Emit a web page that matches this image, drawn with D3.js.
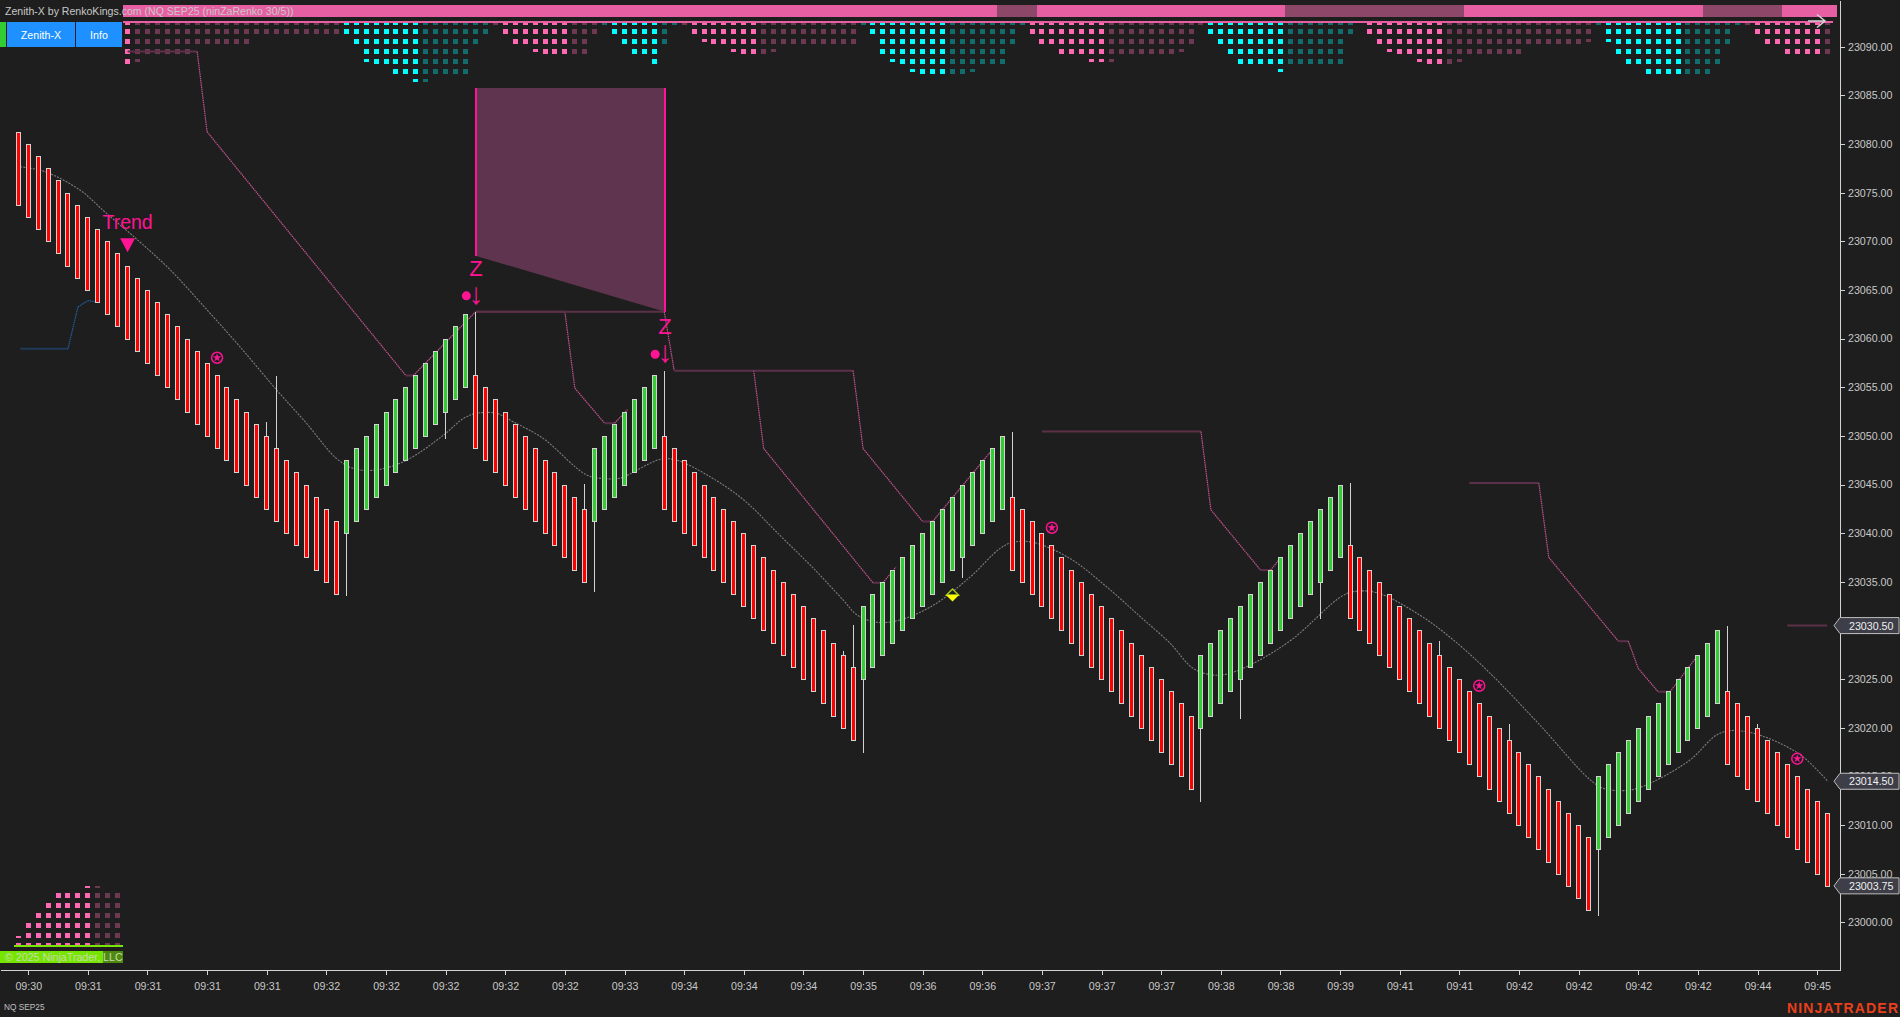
<!DOCTYPE html>
<html>
<head>
<meta charset="utf-8">
<script src="https://cdn.jsdelivr.net/npm/d3@7"></script>
<style>
html, body { margin: 0; padding: 0; background: #1e1e1e; overflow: hidden; }
text { font-family: "Liberation Sans", Arial, sans-serif; }
</style>
</head>
<body>
<script>
// bar closes (bottom of a red brick, top of a green brick)
var barClose = [
  23073.75,23072.5,23071.25,23070,23068.75,23067.5,23066.25,23065,23063.75,23062.5,23061.25,23060,23058.75,23057.5,23056.25,23055,23053.75,
  23052.5,23051.25,23050,23048.75,23047.5,23046.25,23045,23043.75,23042.5,23041.25,23040,23038.75,23037.5,23036.25,23035,23033.75,
  23047.5,23048.75,23050,23051.25,23052.5,23053.75,23055,23056.25,23057.5,23058.75,23060,23061.25,23062.5,
  23048.75,23047.5,23046.25,23045,23043.75,23042.5,23041.25,23040,23038.75,23037.5,23036.25,23035,
  23048.75,23050,23051.25,23052.5,23053.75,23055,23056.25,
  23042.5,23041.25,23040,23038.75,23037.5,23036.25,23035,23033.75,23032.5,23031.25,23030,23028.75,23027.5,23026.25,23025,23023.75,23022.5,23021.25,23020,23018.75,
  23032.5,23033.75,23035,23036.25,23037.5,23038.75,23040,23041.25,23042.5,23043.75,23045,23046.25,23047.5,23048.75,23050,
  23036.25,23035,23033.75,23032.5,23031.25,23030,23028.75,23027.5,23026.25,23025,23023.75,23022.5,23021.25,23020,23018.75,23017.5,23016.25,23015,23013.75,
  23027.5,23028.75,23030,23031.25,23032.5,23033.75,23035,23036.25,23037.5,23038.75,23040,23041.25,23042.5,23043.75,23045,
  23031.25,23030,23028.75,23027.5,23026.25,23025,23023.75,23022.5,23021.25,23020,23018.75,23017.5,23016.25,23015,23013.75,23012.5,23011.25,23010,23008.75,23007.5,23006.25,23005,23003.75,23002.5,23001.25,
  23015,23016.25,23017.5,23018.75,23020,23021.25,23022.5,23023.75,23025,23026.25,23027.5,23028.75,23030,
  23016.25,23015,23013.75,23012.5,23011.25,23010,23008.75,23007.5,23006.25,23005,23003.75
];
var upRuns = [[33, 45], [58, 64], [85, 99], [119, 133], [159, 171]];
var brickSize = 7.5;

// wicks: bar index and the price the wick reaches
var wickBars = [25, 26, 33, 43, 46, 57, 58, 65, 83, 84, 85, 95, 100, 119, 123, 131, 134, 143, 150, 159, 172, 175];
var wickEnds = [23051.4, 23056.15, 23033.5, 23049.7, 23062.75, 23045.1, 23034, 23056.7, 23027.9, 23030.6, 23017.4, 23035.4, 23050.4, 23012.4, 23020.9, 23031.2, 23045.15, 23028.9, 23020.35, 23000.7, 23030.45, 23020.35];

var maBars = [0.2, 2.7, 6.2, 8.8, 12.2, 15.3, 19, 22.3, 26, 29, 32, 33.7, 36, 39.1, 42.8, 44.8, 46.1, 48.1, 49.8, 52.8, 57.2, 59.2, 60.5, 64.6, 66.2, 69.6, 73, 76.6, 80, 83, 84.4, 86.4, 88.7, 92.1, 95.8, 98.8, 100.1, 102.1, 105.8, 109.5, 112.9, 115.9, 118.2, 120.2, 121.9, 124.9, 128.3, 133, 134.3, 136.7, 141, 144.4, 148.1, 153.1, 158, 159.5, 162.2, 164.5, 168.2, 171.2, 173.9, 179.1, 182.1];
var maValues = [23077.66, 23077.15, 23075.27, 23072.94, 23069.96, 23067.05, 23062.94, 23059.16, 23054.71, 23051.29, 23047.69, 23046.66, 23046.49, 23047.52, 23050.09, 23051.8, 23052.32, 23052.32, 23051.45, 23049.75, 23045.98, 23045.6, 23045.64, 23047.59, 23047.52, 23045.8, 23043.41, 23039.81, 23036.39, 23033.13, 23031.59, 23030.84, 23031.07, 23032.61, 23035.52, 23038.44, 23039.06, 23039.06, 23037.41, 23034.49, 23031.41, 23028.68, 23026.11, 23025.42, 23025.59, 23026.96, 23029.19, 23033.41, 23033.98, 23033.88, 23031.59, 23029.02, 23025.59, 23020.28, 23014.8, 23013.77, 23013.6, 23014.45, 23016.68, 23019.43, 23019.59, 23017.37, 23014.45];

// pink stop lines, [bar, price] knots
var stopLines = [
  [[11, 23089.5], [18, 23089.5], [19, 23081.25], [39, 23056.2], [39.75, 23056.2], [46, 23062.75], [55, 23062.75], [56, 23054.9], [59, 23051.3], [60, 23051.3], [61.3, 23052.7]],
  [[46, 23062.75], [65, 23062.75], [66, 23056.7], [74, 23056.7], [75, 23048.7], [86, 23034.9], [87, 23034.9], [88.3, 23036.5]],
  [[74, 23056.7], [84, 23056.7], [85, 23048.7], [91, 23041.2], [92, 23041.2], [98.1, 23048.7]],
  [[103, 23050.45], [119, 23050.45], [120, 23042.4], [125, 23036.2], [126, 23036.2], [127, 23037.45]],
  [[146, 23045.15], [153, 23045.15], [154, 23037.5], [161, 23028.9], [162, 23028.9], [163, 23026.1], [165, 23023.7], [166.2, 23023.7], [168.7, 23027.05]],
  [[178, 23030.5], [182, 23030.5]]
];
var blueLine = [[0.2, 23058.95], [5, 23058.95], [6, 23063.25], [7, 23063.9], [8, 23063.75]];

// supply zone corners
var zoneBars = [46.06, 65.06];
var zoneTop = 23085.75;
var zoneBottoms = [23068.5, 23062.75];

// top heat panel: rows per bar (.3 = clipped last dot), then colour runs
var heatDepth = [
  0,0,0,0,0,0,0,0,0,0,0,4,3.3,3,3,3,3,3,2,2,2,2,2,2,1,1,1,1,1,1,1,1,1,
  1,2,3.3,4,4,5,5,5.3,5.3,5,5,5,5,2,1,0,1,2,2,2.3,3,3,3,3,3,1,0,
  1,2,3,3,4,2,0,0,1,1.3,2,2,2.3,3,3,3,2.3,2,2,2,2,2,2,2,2,0,
  1,3,3.3,4,4.3,5,5,5,5,5,4.3,4,4,4,2,0,1,2,2,3,3,3,3.3,3.3,3.3,3,3,3,3,3,3,2.3,2,0,
  1,2,3,4,4,4,4,4.3,4,4,4,4,4,4,1,0,1,2,2.3,3,3,3.3,4,4,4,3.3,3,3,3,3,3,3,2,2,2,2,2,2,1.3,0,
  1.3,3,4,4,5,5,5,5,5,5,5,4,2,0,0,1,2,2,3,3,3,3,3
];
var heatRuns = [
  [11, 11, "p", 1], [12, 32, "p", 0], [33, 40, "c", 1], [41, 47, "c", 0], [48, 48, "p", 0], [49, 55, "p", 1], [56, 58, "p", 0],
  [59, 59, "c", 0], [60, 64, "c", 1], [65, 66, "c", 0], [67, 67, "p", 0], [68, 74, "p", 1], [75, 84, "p", 0], [85, 85, "c", 0],
  [86, 93, "c", 1], [94, 101, "c", 0], [102, 109, "p", 1], [110, 119, "p", 0], [120, 127, "c", 1], [128, 134, "c", 0],
  [136, 143, "p", 1], [144, 158, "p", 0], [159, 159, "c", 0], [160, 167, "c", 1], [168, 173, "c", 0], [174, 174, "p", 0],
  [175, 181, "p", 1], [182, 182, "p", 0]
];
// small panel, bottom left
var miniDepth = [1.3, 3, 4, 5, 6, 6, 6, 6.3, 6.3, 6, 6];
var miniBright = [1, 1, 1, 1, 1, 1, 1, 1, 0, 0, 0];

// dim pieces of the top band, in bar units
var bandRange = [10.5, 183];
var bandDim = [[98.5, 102.5], [127.5, 145.5], [169.5, 177.5]];

var starBars = [20, 104, 147, 179];
var starPrices = [23058.03, 23040.56, 23024.32, 23016.82];
var zBars = [46.06, 65.06];
var zHighs = [23062.75, 23056.75];
var trendBar = 11;
var trendPrice = 23070.3;
var diamondBar = 94;
var diamondPrice = 23033.64;

var yTicks = d3.range(23000, 23091, 5);
var timeLabels = ["09:30","09:31","09:31","09:31","09:31","09:32","09:32","09:32","09:32","09:32","09:33","09:34","09:34","09:34","09:35","09:36","09:36","09:37","09:37","09:37","09:38","09:38","09:39","09:41","09:41","09:42","09:42","09:42","09:42","09:44","09:45"];
var flagPrices = [23030.5, 23014.5, 23003.75];

var pink = "#ff1493", hot = "#ff69b4", band = "#e75fa3", grey = "#d3d3d3";

var svg = d3.select("body").append("svg").attr("width", 1900).attr("height", 1017).style("display", "block");
svg.append("rect").attr("width", 1900).attr("height", 1017).attr("fill", "#1e1e1e");

var x = d3.scaleLinear().domain([-1.84, 183.3]).range([0, 1840]);
var y = d3.scaleLinear().domain([22995.1, 23094.8]).range([970, 0]);
var rowY = d3.scaleLinear().domain([0, 1]).range([29, 39]);
var miniY = d3.scaleLinear().domain([0, 1]).range([943, 933]);
var px = function (i) { return Math.floor(x(i)) + 0.5; };
var py = function (p) { return Math.round(y(p)) + 0.5; };
var isUp = function (i) { return upRuns.some(function (r) { return i >= r[0] && i <= r[1]; }); };

// header
var bandG = svg.append("g").attr("shape-rendering", "crispEdges");
bandG.append("rect").attr("x", x(bandRange[0])).attr("y", 5).attr("width", x(bandRange[1]) - x(bandRange[0])).attr("height", 12).attr("fill", band);
bandG.selectAll(".dim").data(bandDim).enter().append("rect").attr("x", function (d) { return x(d[0]); }).attr("y", 5)
  .attr("width", function (d) { return x(d[1]) - x(d[0]); }).attr("height", 12).attr("fill", "#8d4769");

// heat panel
var heatG = svg.append("g").attr("shape-rendering", "crispEdges");
heatRuns.forEach(function (run) {
  var col = run[2] == "p" ? hot : "#00ffff";
  var op = run[3] ? 1 : 0.35;
  d3.range(run[0], run[1] + 1).forEach(function (i) {
    var left = Math.floor(x(i)) - 2;
    heatG.append("rect").attr("x", left).attr("y", 23).attr("width", 5).attr("height", 1.5).attr("fill", col).attr("opacity", op);
    var d = heatDepth[i];
    d3.range(Math.floor(d)).forEach(function (r) {
      heatG.append("rect").attr("x", left).attr("y", rowY(r)).attr("width", 5).attr("height", 5).attr("fill", col).attr("opacity", op);
    });
    if (d % 1 > 0) {
      heatG.append("rect").attr("x", left).attr("y", rowY(Math.floor(d))).attr("width", 5).attr("height", 2.5).attr("fill", col).attr("opacity", op);
    }
  });
});
bandG.append("rect").attr("x", x(bandRange[0])).attr("y", 21).attr("width", 1833 - x(bandRange[0])).attr("height", 2).attr("fill", band);

// mini panel
var miniG = svg.append("g").attr("shape-rendering", "crispEdges");
miniDepth.forEach(function (d, i) {
  var left = Math.floor(x(i)) - 2;
  var op = miniBright[i] ? 1 : 0.35;
  d3.range(Math.floor(d)).forEach(function (r) {
    miniG.append("rect").attr("x", left).attr("y", miniY(r)).attr("width", 5).attr("height", r == 0 ? 2 : 5).attr("fill", hot).attr("opacity", op);
  });
  if (d % 1 > 0) {
    miniG.append("rect").attr("x", left).attr("y", miniY(Math.floor(d)) + 2.5).attr("width", 5).attr("height", 2.5).attr("fill", hot).attr("opacity", op);
  }
});
miniG.append("rect").attr("x", 14).attr("y", 945).attr("width", 109).attr("height", 2).attr("fill", "#76e600");
miniG.append("rect").attr("x", 0).attr("y", 951).attr("width", 103).attr("height", 12).attr("fill", "#76e600");
miniG.append("rect").attr("x", 103).attr("y", 951).attr("width", 20).attr("height", 12).attr("fill", "#4f8a10");
svg.append("text").attr("x", 5).attr("y", 961).attr("font-size", 10.67).attr("fill", "#c8d8b0").text("© 2025 NinjaTrader, LLC");

// buttons
var btnG = svg.append("g").attr("shape-rendering", "crispEdges");
btnG.append("rect").attr("x", 0).attr("y", 22).attr("width", 6).attr("height", 25).attr("fill", "#32cd32");
btnG.append("rect").attr("x", 7).attr("y", 22).attr("width", 68).attr("height", 25).attr("fill", "#1e90ff");
btnG.append("rect").attr("x", 76).attr("y", 22).attr("width", 46).attr("height", 25).attr("fill", "#1e90ff");
svg.append("text").attr("x", 41).attr("y", 38.5).attr("text-anchor", "middle").attr("font-size", 10.67).attr("fill", "#fff").text("Zenith-X");
svg.append("text").attr("x", 99).attr("y", 38.5).attr("text-anchor", "middle").attr("font-size", 10.67).attr("fill", "#fff").text("Info");

svg.append("text").attr("x", 5).attr("y", 15).attr("font-size", 10.56).attr("fill", "#c8c8c8").text("Zenith-X by RenkoKings.com (NQ SEP25 (ninZaRenko 30/5))");

// arrow, top right
svg.append("path").attr("d", "M1808 21H1825M1817 14.5L1825 21L1817 27.5").attr("fill", "none").attr("stroke", "#cfcfcf").attr("stroke-width", 1.6);

// zone
var zonePts = [[zoneBars[0], zoneTop], [zoneBars[1], zoneTop], [zoneBars[1], zoneBottoms[1]], [zoneBars[0], zoneBottoms[0]]];
svg.append("path").attr("d", d3.line().x(function (d) { return x(d[0]); }).y(function (d) { return y(d[1]); })(zonePts) + "Z").attr("fill", "#5f344e");
zoneBars.forEach(function (b, k) {
  svg.append("line").attr("x1", x(b)).attr("x2", x(b)).attr("y1", y(zoneTop)).attr("y2", y(zoneBottoms[k])).attr("stroke", pink).attr("stroke-width", 2).attr("shape-rendering", "crispEdges");
});

// stop lines: flat parts are thick and dull, sloped parts thin and dotted
function drawStops(pts, flatCol, slopeCol) {
  d3.pairs(pts).forEach(function (p) {
    var flat = p[0][1] == p[1][1];
    svg.append("line").attr("x1", x(p[0][0])).attr("y1", y(p[0][1])).attr("x2", x(p[1][0])).attr("y2", y(p[1][1]))
      .attr("stroke", flat ? flatCol : slopeCol).attr("stroke-width", flat ? 2 : 1.2).attr("stroke-dasharray", flat ? null : "1.5,0.7");
  });
}
stopLines.forEach(function (l) { drawStops(l, "#5c3049", "#c2538f"); });
drawStops(blueLine, "#1f3a58", "#1f5f9f");

// moving average
svg.append("path").datum(d3.zip(maBars, maValues))
  .attr("d", d3.line().curve(d3.curveCatmullRom).x(function (d) { return x(d[0]); }).y(function (d) { return y(d[1]); }))
  .attr("fill", "none").attr("stroke", "#7e7e7e").attr("stroke-width", 1.1).attr("stroke-dasharray", "2,1.2");

// bars
var barG = svg.append("g").attr("shape-rendering", "crispEdges");
barG.selectAll(".wick").data(wickBars).enter().append("line")
  .attr("x1", function (d) { return px(d); }).attr("x2", function (d) { return px(d); })
  .attr("y1", function (d, k) { return y(wickEnds[k]); })
  .attr("y2", function (d) { return y(barClose[d] + (isUp(d) ? -brickSize / 2 : brickSize / 2)); })
  .attr("stroke", grey).attr("stroke-width", 1);
barG.selectAll(".bar").data(barClose).enter().append("rect")
  .attr("x", function (d, i) { return px(i) - 2; })
  .attr("y", function (d, i) { return py(isUp(i) ? d : d + brickSize); })
  .attr("width", 4)
  .attr("height", function (d, i) { return py(isUp(i) ? d - brickSize : d) - py(isUp(i) ? d : d + brickSize); })
  .attr("fill", function (d, i) { return isUp(i) ? "#32cd32" : "#ff0000"; })
  .attr("stroke", grey).attr("stroke-width", 1);

// signals
svg.append("text").attr("x", x(trendBar)).attr("y", y(trendPrice) - 9).attr("text-anchor", "middle").attr("font-size", 19.5).attr("fill", pink).text("Trend");
svg.append("path").attr("transform", "translate(" + x(trendBar) + "," + y(trendPrice) + ")").attr("d", "M-7.5 0H7.5L0 14Z").attr("fill", pink);

zBars.forEach(function (b, k) {
  var top = y(zHighs[k]);
  svg.append("text").attr("x", x(b)).attr("y", top - 36).attr("text-anchor", "middle").attr("font-size", 22).attr("fill", pink).text("Z");
  svg.append("circle").attr("cx", x(b) - 9.7).attr("cy", top - 16).attr("r", 4.5).attr("fill", pink);
  svg.append("text").attr("x", x(b)).attr("y", top - 8).attr("text-anchor", "middle").attr("font-size", 30).attr("fill", pink).text("↓");
});

starBars.forEach(function (b, k) {
  var g = svg.append("g").attr("transform", "translate(" + x(b) + "," + y(starPrices[k]) + ")");
  g.append("circle").attr("r", 5.5).attr("fill", "none").attr("stroke", pink).attr("stroke-width", 1.5);
  g.append("path").attr("d", d3.symbol().type(d3.symbolStar).size(22)()).attr("fill", pink);
});

var dx = x(diamondBar), dy = y(diamondPrice);
svg.append("path").attr("d", "M" + (dx - 6) + " " + dy + "L" + dx + " " + (dy - 6) + "L" + (dx + 6) + " " + dy + "Z").attr("fill", "#1e1e1e").attr("stroke", "#a9c81e").attr("stroke-width", 1.5);
svg.append("path").attr("d", "M" + (dx - 6.5) + " " + dy + "L" + dx + " " + (dy + 6.5) + "L" + (dx + 6.5) + " " + dy + "Z").attr("fill", "#ffff00");

// axes
var xTickBars = timeLabels.map(function (d, k) { return 1 + k * 6; });
var xAxis = d3.axisBottom(x).tickValues(xTickBars).tickSizeInner(5).tickSizeOuter(0).tickPadding(7)
  .tickFormat(function (d) { return timeLabels[(d - 1) / 6]; });
var yAxis = d3.axisRight(y).tickValues(yTicks).tickSizeInner(5).tickSizeOuter(0).tickPadding(3).tickFormat(d3.format(".2f"));

var xAxisGroup = svg.append("g").attr("transform", "translate(0,970)").call(xAxis);
var yAxisGroup = svg.append("g").attr("transform", "translate(1840,0)").call(yAxis);
[xAxisGroup, yAxisGroup].forEach(function (g) {
  g.selectAll("path,line").attr("stroke", grey).attr("shape-rendering", "crispEdges");
  g.selectAll("text").attr("fill", "#c8c8c8").style("font-size", "10.67px").style("font-family", "'Liberation Sans'");
});

// price flags
flagPrices.forEach(function (p) {
  var c = y(p);
  svg.append("path").attr("d", "M1834 " + c + "L1840 " + (c - 8) + "H1899V" + (c + 8) + "H1840Z").attr("fill", "#3e3e48").attr("stroke", "#bdbdbd").attr("stroke-width", 1);
  svg.append("text").attr("x", 1849).attr("y", c + 4).attr("font-size", 10.67).attr("fill", "#f0f0f0").text(d3.format(".2f")(p));
});

svg.append("text").attr("x", 4).attr("y", 1010).attr("font-size", 8.3).attr("fill", "#c0c0c0").text("NQ SEP25");
svg.append("text").attr("x", 1787).attr("y", 1012.5).attr("font-size", 14).attr("font-weight", "bold").attr("fill", "#e8401c").attr("textLength", 111).text("NINJATRADER");
</script>
</body>
</html>
